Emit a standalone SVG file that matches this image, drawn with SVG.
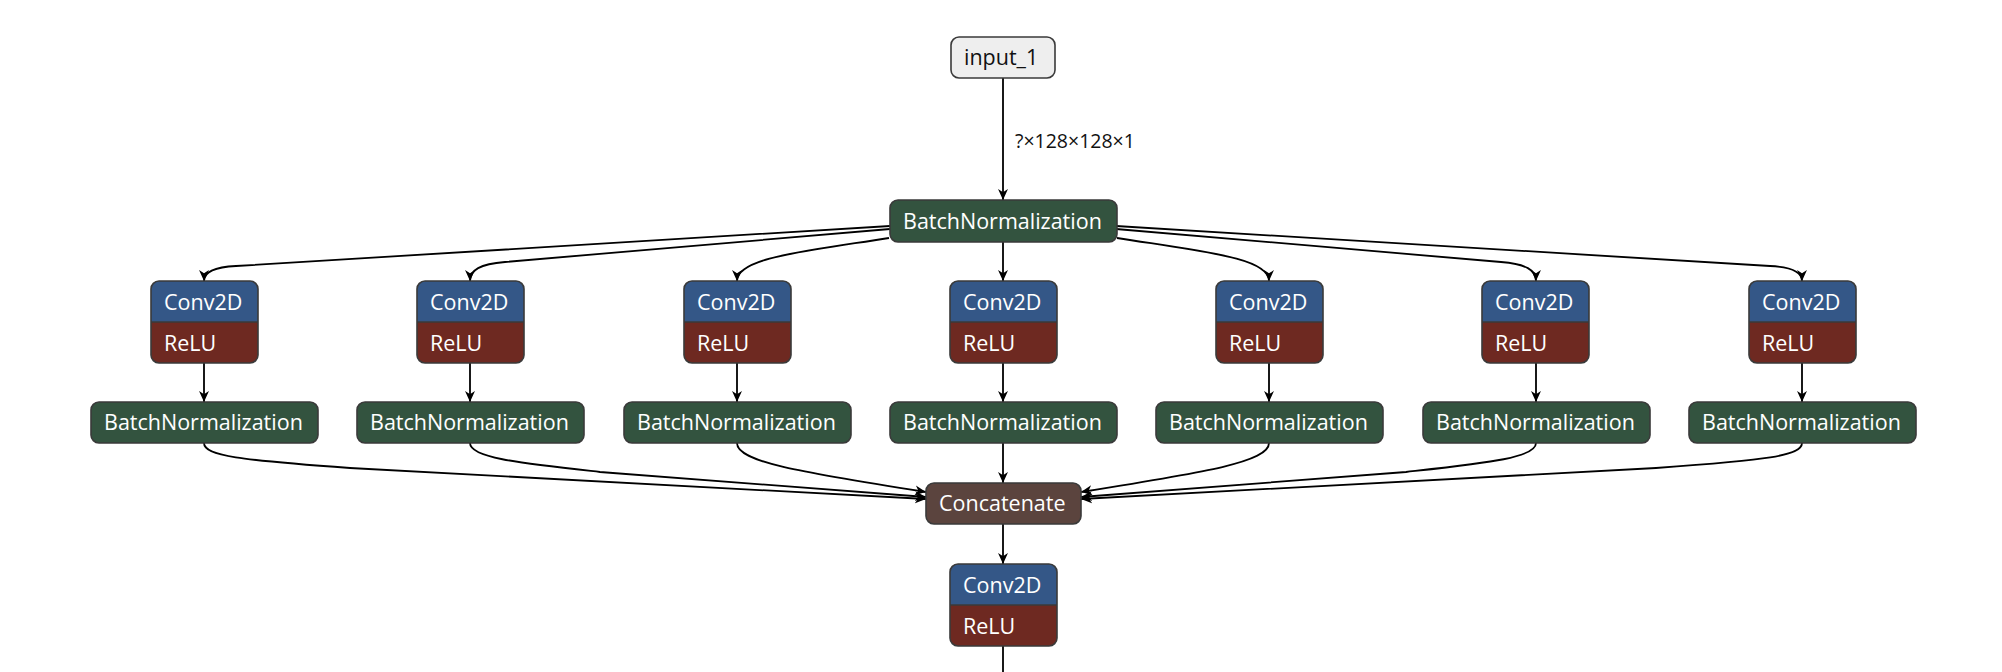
<svg xmlns="http://www.w3.org/2000/svg" width="2002" height="672" viewBox="0 0 2002 672">
<defs>
<style>
.box{stroke:#3a3a3a;stroke-width:1.6}
.inp{fill:#eeeeee}
.bn{fill:#33533f}
.conv{fill:#345787}
.relu{fill:#6e2921}
.cat{fill:#5b443e}
.t{font-family:"Open Sans","DejaVu Sans",sans-serif;font-size:21.5px;fill:#ffffff}
.td{font-family:"Open Sans","DejaVu Sans",sans-serif;font-size:21.5px;fill:#111111}
.lbl{font-family:"Open Sans","DejaVu Sans",sans-serif;font-size:19.5px;fill:#111111}
.e{fill:none;stroke:#000;stroke-width:1.8}
</style>
<marker id="arr" viewBox="0 0 10 10" refX="10" refY="5" markerWidth="11" markerHeight="11" markerUnits="userSpaceOnUse" orient="auto">
<path d="M0,0.5 L10,5 L0,9.5 L3,5 z" fill="#000"/>
</marker>
</defs>
<rect width="2002" height="672" fill="#ffffff"/>

<g id="connectors">
<path class="e" marker-end="url(#arr)" d="M1003,78 L1003,200"/>
<text class="lbl" x="1015" y="148">?×128×128×1</text>
<path class="e" marker-end="url(#arr)" d="M890,226 L236,266 C214,267 204,272 204,281"/>
<path class="e" marker-end="url(#arr)" d="M890,229 L505,262 C480,264 470,270 470,281"/>
<path class="e" marker-end="url(#arr)" d="M889,238 C800,252 737,258 737,281"/>
<path class="e" marker-end="url(#arr)" d="M1003,242 L1003,281"/>
<path class="e" marker-end="url(#arr)" d="M1117,238 C1206,252 1269,258 1269,281"/>
<path class="e" marker-end="url(#arr)" d="M1116,229 L1501,262 C1526,264 1536,270 1536,281"/>
<path class="e" marker-end="url(#arr)" d="M1116,226 L1770,266 C1792,267 1802,272 1802,281"/>
<path class="e" marker-end="url(#arr)" d="M204,363 L204,402"/>
<path class="e" marker-end="url(#arr)" d="M470,363 L470,402"/>
<path class="e" marker-end="url(#arr)" d="M737,363 L737,402"/>
<path class="e" marker-end="url(#arr)" d="M1003,363 L1003,402"/>
<path class="e" marker-end="url(#arr)" d="M1269,363 L1269,402"/>
<path class="e" marker-end="url(#arr)" d="M1536,363 L1536,402"/>
<path class="e" marker-end="url(#arr)" d="M1802,363 L1802,402"/>
<path class="e" marker-end="url(#arr)" d="M204,443 C204,456 240,460 350,468 L926,499"/>
<path class="e" marker-end="url(#arr)" d="M470,443 C470,458 520,463 600,472 L926,497"/>
<path class="e" marker-end="url(#arr)" d="M737,443 C737,462 800,472 926,492"/>
<path class="e" marker-end="url(#arr)" d="M1003,443 L1003,483"/>
<path class="e" marker-end="url(#arr)" d="M1269,443 C1269,462 1206,472 1081,492"/>
<path class="e" marker-end="url(#arr)" d="M1536,443 C1536,458 1486,463 1406,472 L1081,497"/>
<path class="e" marker-end="url(#arr)" d="M1802,443 C1802,456 1766,460 1656,468 L1081,499"/>
<path class="e" marker-end="url(#arr)" d="M1003,524 L1003,564"/>
<path class="e" d="M1003,646 L1003,672"/>
</g>

<g id="input_1">
<rect class="box inp" x="951" y="37" width="104" height="41" rx="8"/>
<text class="td" x="964" y="65">input_1</text>
</g>

<g id="bn_top">
<rect class="box bn" x="890" y="200" width="227" height="42" rx="8"/>
<text class="t" x="903" y="228.5">BatchNormalization</text>
</g>

<g id="conv_0">
<path class="conv" d="M151,322 V289 a8,8 0 0 1 8,-8 H250 a8,8 0 0 1 8,8 V322 z"/>
<path class="relu" d="M151,322 V355 a8,8 0 0 0 8,8 H250 a8,8 0 0 0 8,-8 V322 z"/>
<rect class="box" fill="none" x="151" y="281" width="107" height="82" rx="8"/>
<line x1="151" y1="322" x2="258" y2="322" stroke="#3a3a3a" stroke-width="1.6"/>
<text class="t" x="164" y="310">Conv2D</text>
<text class="t" x="164" y="351">ReLU</text>
</g>
<g id="conv_1">
<path class="conv" d="M417,322 V289 a8,8 0 0 1 8,-8 H516 a8,8 0 0 1 8,8 V322 z"/>
<path class="relu" d="M417,322 V355 a8,8 0 0 0 8,8 H516 a8,8 0 0 0 8,-8 V322 z"/>
<rect class="box" fill="none" x="417" y="281" width="107" height="82" rx="8"/>
<line x1="417" y1="322" x2="524" y2="322" stroke="#3a3a3a" stroke-width="1.6"/>
<text class="t" x="430" y="310">Conv2D</text>
<text class="t" x="430" y="351">ReLU</text>
</g>
<g id="conv_2">
<path class="conv" d="M684,322 V289 a8,8 0 0 1 8,-8 H783 a8,8 0 0 1 8,8 V322 z"/>
<path class="relu" d="M684,322 V355 a8,8 0 0 0 8,8 H783 a8,8 0 0 0 8,-8 V322 z"/>
<rect class="box" fill="none" x="684" y="281" width="107" height="82" rx="8"/>
<line x1="684" y1="322" x2="791" y2="322" stroke="#3a3a3a" stroke-width="1.6"/>
<text class="t" x="697" y="310">Conv2D</text>
<text class="t" x="697" y="351">ReLU</text>
</g>
<g id="conv_3">
<path class="conv" d="M950,322 V289 a8,8 0 0 1 8,-8 H1049 a8,8 0 0 1 8,8 V322 z"/>
<path class="relu" d="M950,322 V355 a8,8 0 0 0 8,8 H1049 a8,8 0 0 0 8,-8 V322 z"/>
<rect class="box" fill="none" x="950" y="281" width="107" height="82" rx="8"/>
<line x1="950" y1="322" x2="1057" y2="322" stroke="#3a3a3a" stroke-width="1.6"/>
<text class="t" x="963" y="310">Conv2D</text>
<text class="t" x="963" y="351">ReLU</text>
</g>
<g id="conv_4">
<path class="conv" d="M1216,322 V289 a8,8 0 0 1 8,-8 H1315 a8,8 0 0 1 8,8 V322 z"/>
<path class="relu" d="M1216,322 V355 a8,8 0 0 0 8,8 H1315 a8,8 0 0 0 8,-8 V322 z"/>
<rect class="box" fill="none" x="1216" y="281" width="107" height="82" rx="8"/>
<line x1="1216" y1="322" x2="1323" y2="322" stroke="#3a3a3a" stroke-width="1.6"/>
<text class="t" x="1229" y="310">Conv2D</text>
<text class="t" x="1229" y="351">ReLU</text>
</g>
<g id="conv_5">
<path class="conv" d="M1482,322 V289 a8,8 0 0 1 8,-8 H1581 a8,8 0 0 1 8,8 V322 z"/>
<path class="relu" d="M1482,322 V355 a8,8 0 0 0 8,8 H1581 a8,8 0 0 0 8,-8 V322 z"/>
<rect class="box" fill="none" x="1482" y="281" width="107" height="82" rx="8"/>
<line x1="1482" y1="322" x2="1589" y2="322" stroke="#3a3a3a" stroke-width="1.6"/>
<text class="t" x="1495" y="310">Conv2D</text>
<text class="t" x="1495" y="351">ReLU</text>
</g>
<g id="conv_6">
<path class="conv" d="M1749,322 V289 a8,8 0 0 1 8,-8 H1848 a8,8 0 0 1 8,8 V322 z"/>
<path class="relu" d="M1749,322 V355 a8,8 0 0 0 8,8 H1848 a8,8 0 0 0 8,-8 V322 z"/>
<rect class="box" fill="none" x="1749" y="281" width="107" height="82" rx="8"/>
<line x1="1749" y1="322" x2="1856" y2="322" stroke="#3a3a3a" stroke-width="1.6"/>
<text class="t" x="1762" y="310">Conv2D</text>
<text class="t" x="1762" y="351">ReLU</text>
</g>

<g id="bn_0"><rect class="box bn" x="91" y="402" width="227" height="41" rx="8"/><text class="t" x="104" y="430">BatchNormalization</text></g>
<g id="bn_1"><rect class="box bn" x="357" y="402" width="227" height="41" rx="8"/><text class="t" x="370" y="430">BatchNormalization</text></g>
<g id="bn_2"><rect class="box bn" x="624" y="402" width="227" height="41" rx="8"/><text class="t" x="637" y="430">BatchNormalization</text></g>
<g id="bn_3"><rect class="box bn" x="890" y="402" width="227" height="41" rx="8"/><text class="t" x="903" y="430">BatchNormalization</text></g>
<g id="bn_4"><rect class="box bn" x="1156" y="402" width="227" height="41" rx="8"/><text class="t" x="1169" y="430">BatchNormalization</text></g>
<g id="bn_5"><rect class="box bn" x="1423" y="402" width="227" height="41" rx="8"/><text class="t" x="1436" y="430">BatchNormalization</text></g>
<g id="bn_6"><rect class="box bn" x="1689" y="402" width="227" height="41" rx="8"/><text class="t" x="1702" y="430">BatchNormalization</text></g>

<g id="concatenate">
<rect class="box cat" x="926" y="483" width="155" height="41" rx="8"/>
<text class="t" x="939" y="511">Concatenate</text>
</g>

<g id="conv_final">
<path class="conv" d="M950,605 V572 a8,8 0 0 1 8,-8 H1049 a8,8 0 0 1 8,8 V605 z"/>
<path class="relu" d="M950,605 V638 a8,8 0 0 0 8,8 H1049 a8,8 0 0 0 8,-8 V605 z"/>
<rect class="box" fill="none" x="950" y="564" width="107" height="82" rx="8"/>
<line x1="950" y1="605" x2="1057" y2="605" stroke="#3a3a3a" stroke-width="1.6"/>
<text class="t" x="963" y="593">Conv2D</text>
<text class="t" x="963" y="634">ReLU</text>
</g>
</svg>
